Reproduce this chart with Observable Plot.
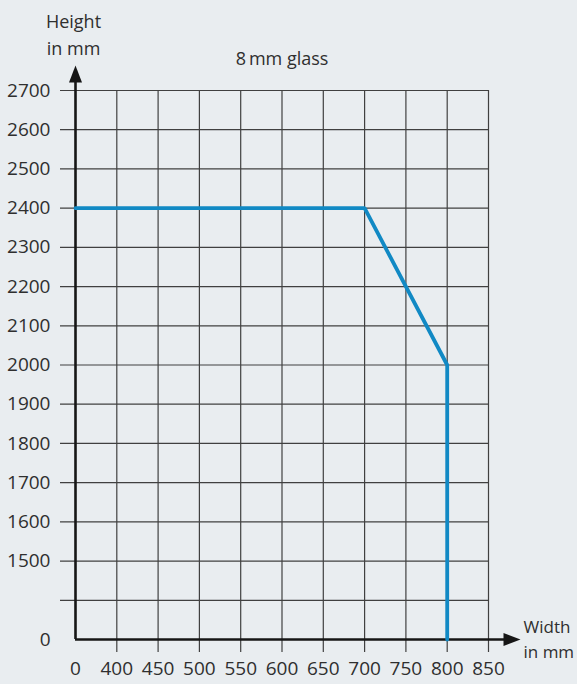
<!DOCTYPE html>
<html>
<head>
<meta charset="utf-8">
<script src="https://cdn.jsdelivr.net/npm/d3@7"></script>
<script src="https://cdn.jsdelivr.net/npm/@observablehq/plot@0.6"></script>
<style>
  html, body { margin: 0; padding: 0; background: #e9edf0; }
  #chart svg { display: block; }
</style>
</head>
<body>
<div id="chart"></div>
<script>
// Tick values of the broken axes (0 is followed by a jump to the first regular tick)
const widthTicks = [0, 400, 450, 500, 550, 600, 650, 700, 750, 800, 850];
const heightTicks = [0, 1500, 1600, 1700, 1800, 1900, 2000, 2100, 2200, 2300, 2400, 2500, 2600, 2700];
const heightGrid = [1400, 1500, 1600, 1700, 1800, 1900, 2000, 2100, 2200, 2300, 2400, 2500, 2600, 2700];

// Maximum door size for 8 mm glass
const limitWidth = [0, 700, 800, 800];
const limitHeight = [2400, 2400, 2000, 0];
const limit = limitWidth.map((w, i) => ({width: w, height: limitHeight[i]}));

const W = 577, H = 684;
const mL = 75, mR = 89, mT = 90, mB = 45;
const frameL = mL, frameR = W - mR, frameT = mT, frameB = H - mB;
const colStep = (frameR - frameL) / (widthTicks.length - 1);
const rowStep = (frameB - frameT) / heightGrid.length;

// Filled arrowheads for the two axes
const arrowUp = {draw(ctx) { ctx.moveTo(0, -25); ctx.lineTo(6.5, -8); ctx.lineTo(-6.5, -8); ctx.closePath(); }};
const arrowRight = {draw(ctx) { ctx.moveTo(32, 0); ctx.lineTo(15, -6.5); ctx.lineTo(15, 6.5); ctx.closePath(); }};

const fmt = d => `${d}`;
const grid = "#404040";
const ink = "#2f2f2f";

const chart = Plot.plot({
  width: W,
  height: H,
  marginLeft: mL, marginRight: mR, marginTop: mT, marginBottom: mB,
  style: {background: "transparent", fontFamily: "'Open Sans', sans-serif", fontSize: "19px", color: ink},
  x: {type: "linear", domain: [0, 400, 850], range: [frameL, frameL + colStep, frameR], label: null},
  y: {type: "linear", domain: [0, 1400, 2700], range: [frameB, frameB - rowStep, frameT], label: null},
  marks: [
    // grid lines, each reaching past its axis as a tick
    Plot.ruleY(heightGrid, {x1: 0, x2: 850, insetLeft: -15, stroke: grid, strokeWidth: 1.2}),
    Plot.ruleX(widthTicks.slice(1), {y1: 2700, y2: 0, insetBottom: -13, stroke: grid, strokeWidth: 1.2}),
    // axis lines with arrowheads
    Plot.ruleX([0], {y1: 2700, y2: 0, insetTop: -14, stroke: "#161616", strokeWidth: 2.6}),
    Plot.ruleY([0], {x1: 0, x2: 850, insetRight: -18, stroke: "#161616", strokeWidth: 2.6}),
    Plot.dot([0], {x: 0, y: 2700, symbol: arrowUp, fill: "#161616", stroke: null, r: 5}),
    Plot.dot([0], {x: 850, y: 0, symbol: arrowRight, fill: "#161616", stroke: null, r: 5}),
    // tick labels
    Plot.axisX({ticks: widthTicks, tickFormat: fmt, tickSize: 0, tickPadding: 22, fill: ink, label: null}),
    Plot.axisY({ticks: heightTicks, tickFormat: fmt, tickSize: 0, tickPadding: 25, fill: ink, label: null}),
    // size limit
    Plot.line(limit, {x: "width", y: "height", stroke: "#1189c4", strokeWidth: 3.8, strokeLinejoin: "miter"}),
    // titles
    Plot.text(["8\u2009mm glass"], {frameAnchor: "top", lineAnchor: "middle", dy: -31, fill: ink, fontSize: 18}),
    Plot.text(["Height\nin mm"], {frameAnchor: "top-left", textAnchor: "middle", lineAnchor: "middle", dx: -2, dy: -58, lineHeight: 1.5, fill: ink, fontSize: 18}),
    Plot.text(["Width\nin mm"], {frameAnchor: "bottom-right", textAnchor: "start", lineAnchor: "middle", dx: 35, dy: -2, lineHeight: 1.45, fill: ink, fontSize: 17})
  ]
});

document.getElementById("chart").append(chart);
</script>
</body>
</html>
